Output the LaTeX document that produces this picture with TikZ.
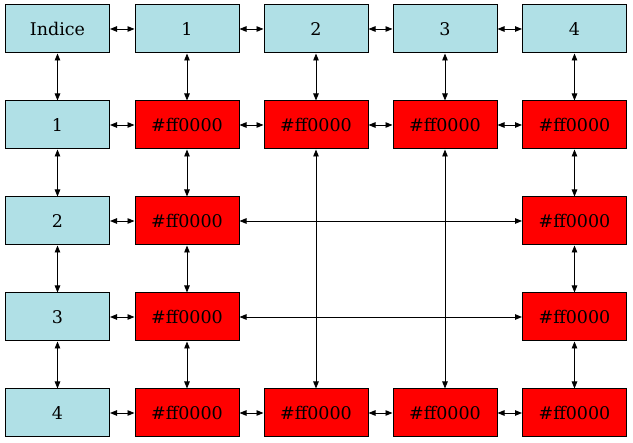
\documentclass[tikz,border=0pt]{standalone}
\usepackage{fontspec}
\setmainfont{DejaVu Serif}
\usetikzlibrary{arrows.meta}
\definecolor{headblue}{HTML}{B0E0E6}
\tikzset{
  x=1pt, y=-1pt,
  cell/.style={draw=black, line width=1pt, minimum width=104pt, minimum height=48pt,
    inner sep=0pt, font=\fontsize{17.5}{20}\selectfont},
  head/.style={cell, fill=headblue},
  val/.style={cell, fill=red},
  link/.style={line width=0.9pt, {Triangle[length=7pt,width=5.5pt]}-{Triangle[length=7pt,width=5.5pt]}},
}
\begin{document}
\begin{tikzpicture}
\useasboundingbox (0,0) rectangle (633,443);
% column centres and row centres
\def\cA{57.5}\def\cB{187}\def\cC{316}\def\cD{445}\def\cE{574.5}
\def\rA{29}\def\rB{125}\def\rC{221}\def\rD{317}\def\rE{413}
% header row
\node[head] (h0) at (\cA,\rA) {Indice};
\node[head] (h1) at (\cB,\rA) {1};
\node[head] (h2) at (\cC,\rA) {2};
\node[head] (h3) at (\cD,\rA) {3};
\node[head] (h4) at (\cE,\rA) {4};
% row headers
\node[head] (r1) at (\cA,\rB) {1};
\node[head] (r2) at (\cA,\rC) {2};
\node[head] (r3) at (\cA,\rD) {3};
\node[head] (r4) at (\cA,\rE) {4};
% row 1
\node[val] (a11) at (\cB,\rB) {\#ff0000};
\node[val] (a12) at (\cC,\rB) {\#ff0000};
\node[val] (a13) at (\cD,\rB) {\#ff0000};
\node[val] (a14) at (\cE,\rB) {\#ff0000};
% row 2
\node[val] (a21) at (\cB,\rC) {\#ff0000};
\node[val] (a24) at (\cE,\rC) {\#ff0000};
% row 3
\node[val] (a31) at (\cB,\rD) {\#ff0000};
\node[val] (a34) at (\cE,\rD) {\#ff0000};
% row 4
\node[val] (a41) at (\cB,\rE) {\#ff0000};
\node[val] (a42) at (\cC,\rE) {\#ff0000};
\node[val] (a43) at (\cD,\rE) {\#ff0000};
\node[val] (a44) at (\cE,\rE) {\#ff0000};
% horizontal links
\draw[link] (h0) -- (h1);
\draw[link] (h1) -- (h2);
\draw[link] (h2) -- (h3);
\draw[link] (h3) -- (h4);
\draw[link] (r1) -- (a11);
\draw[link] (a11) -- (a12);
\draw[link] (a12) -- (a13);
\draw[link] (a13) -- (a14);
\draw[link] (r2) -- (a21);
\draw[link] (a21) -- (a24);
\draw[link] (r3) -- (a31);
\draw[link] (a31) -- (a34);
\draw[link] (r4) -- (a41);
\draw[link] (a41) -- (a42);
\draw[link] (a42) -- (a43);
\draw[link] (a43) -- (a44);
% vertical links
\draw[link] (h0) -- (r1);
\draw[link] (r1) -- (r2);
\draw[link] (r2) -- (r3);
\draw[link] (r3) -- (r4);
\draw[link] (h1) -- (a11);
\draw[link] (a11) -- (a21);
\draw[link] (a21) -- (a31);
\draw[link] (a31) -- (a41);
\draw[link] (h2) -- (a12);
\draw[link] (a12) -- (a42);
\draw[link] (h3) -- (a13);
\draw[link] (a13) -- (a43);
\draw[link] (h4) -- (a14);
\draw[link] (a14) -- (a24);
\draw[link] (a24) -- (a34);
\draw[link] (a34) -- (a44);
\end{tikzpicture}
\end{document}
